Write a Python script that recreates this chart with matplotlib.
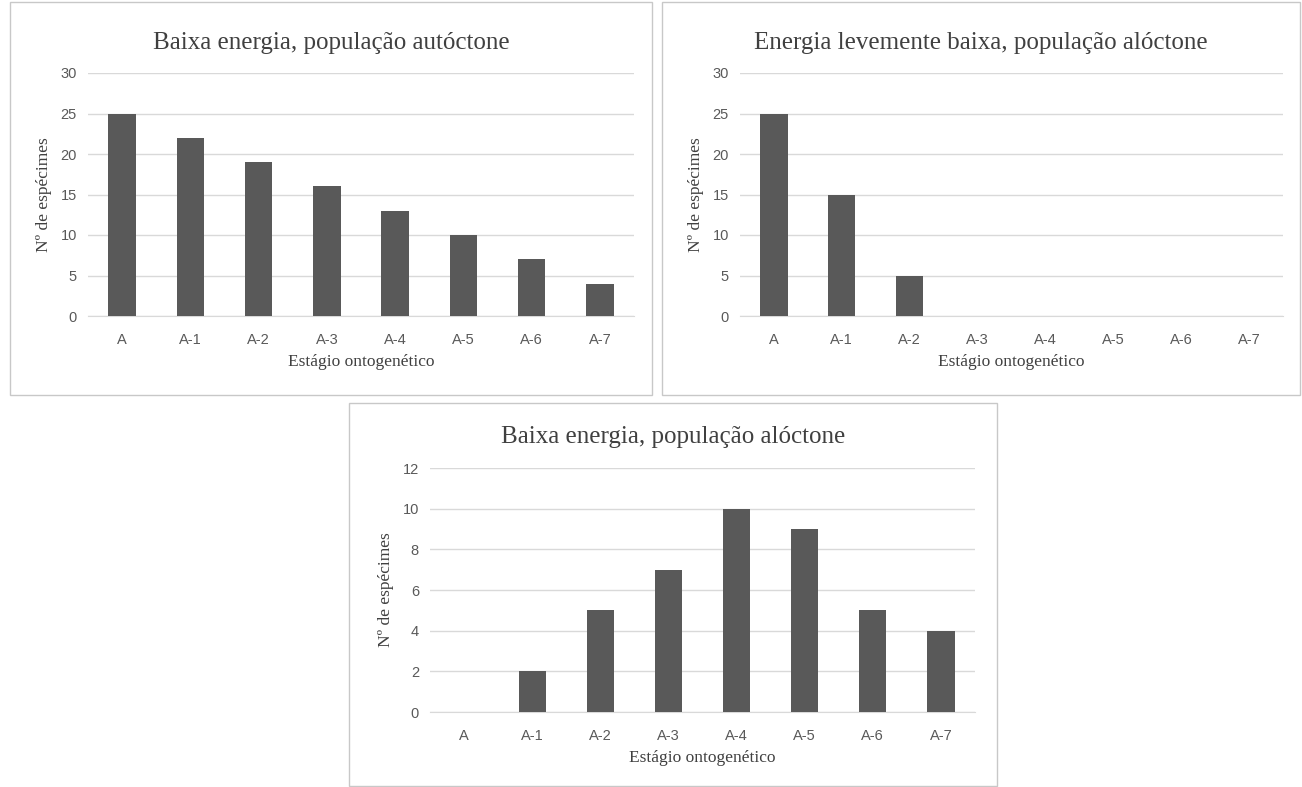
import matplotlib.pyplot as plt
from matplotlib.patches import Rectangle

estagios = ["A", "A-1", "A-2", "A-3", "A-4", "A-5", "A-6", "A-7"]
autoctone_baixa = [25, 22, 19, 16, 13, 10, 7, 4]
aloctone_levemente_baixa = [25, 15, 5, 0, 0, 0, 0, 0]
aloctone_baixa = [0, 2, 5, 7, 10, 9, 5, 4]

titulos = ["Baixa energia, população autóctone",
           "Energia levemente baixa, população alóctone",
           "Baixa energia, população alóctone"]

W, H = 1302, 787
cor_barra = "#595959"
cor_grade = "#d9d9d9"
serif = ["Liberation Serif", "DejaVu Serif"]
sans = ["Liberation Sans Narrow", "Liberation Sans", "DejaVu Sans"]

fig = plt.figure(figsize=(W / 100, H / 100), dpi=100)


def caixa(x0, y0, x1, y1):
    # moldura cinza de cada gráfico (como no Excel)
    fig.patches.append(Rectangle((x0 / W, 1 - y1 / H), (x1 - x0) / W, (y1 - y0) / H,
                                 transform=fig.transFigure, fill=False,
                                 edgecolor="#c8c8c8", linewidth=1))


def painel(box, area, y_titulo, valores, titulo, ymax, passo):
    x0, y0, x1, y1 = box
    caixa(x0, y0, x1, y1)
    l, t, r, b = area
    ax = fig.add_axes([l / W, 1 - b / H, (r - l) / W, (b - t) / H])
    pos = list(range(len(estagios)))
    ax.bar(pos, valores, width=0.4, color=cor_barra, zorder=3)
    ax.set_xlim(-0.5, len(estagios) - 0.5)
    ax.set_ylim(0, ymax)
    ax.set_yticks(range(0, ymax + 1, passo))
    ax.set_xticks(pos)
    ax.set_xticklabels(estagios)
    ax.grid(axis="y", color=cor_grade, linewidth=1, zorder=0)
    for s in ["top", "right", "left"]:
        ax.spines[s].set_visible(False)
    ax.spines["bottom"].set_color(cor_grade)
    ax.tick_params(length=0, colors=cor_barra, labelsize=10.5, pad=8)
    for lab in ax.get_xticklabels() + ax.get_yticklabels():
        lab.set_family(sans)
    ax.tick_params(axis="x", pad=12)
    ax.set_xlabel("Estágio ontogenético", family=serif, fontsize=12.5, color="#404040", labelpad=5)
    ax.set_ylabel("Nº de espécimes", family=serif, fontsize=12.5, color="#404040", labelpad=6)
    fig.text((x0 + x1) / 2 / W, 1 - y_titulo / H, titulo,
             family=serif, fontsize=18, color="#404040", ha="center", va="center")
    return ax


painel((10, 2, 652, 395), (88, 73, 634, 316), 43, autoctone_baixa, titulos[0], 30, 5)
painel((662, 2, 1300, 395), (740, 73, 1283, 316), 43, aloctone_levemente_baixa, titulos[1], 30, 5)
painel((349, 403, 997, 786), (430, 468, 975, 712), 437, aloctone_baixa, titulos[2], 12, 2)

fig.savefig("out.png", dpi=100, facecolor="white")
